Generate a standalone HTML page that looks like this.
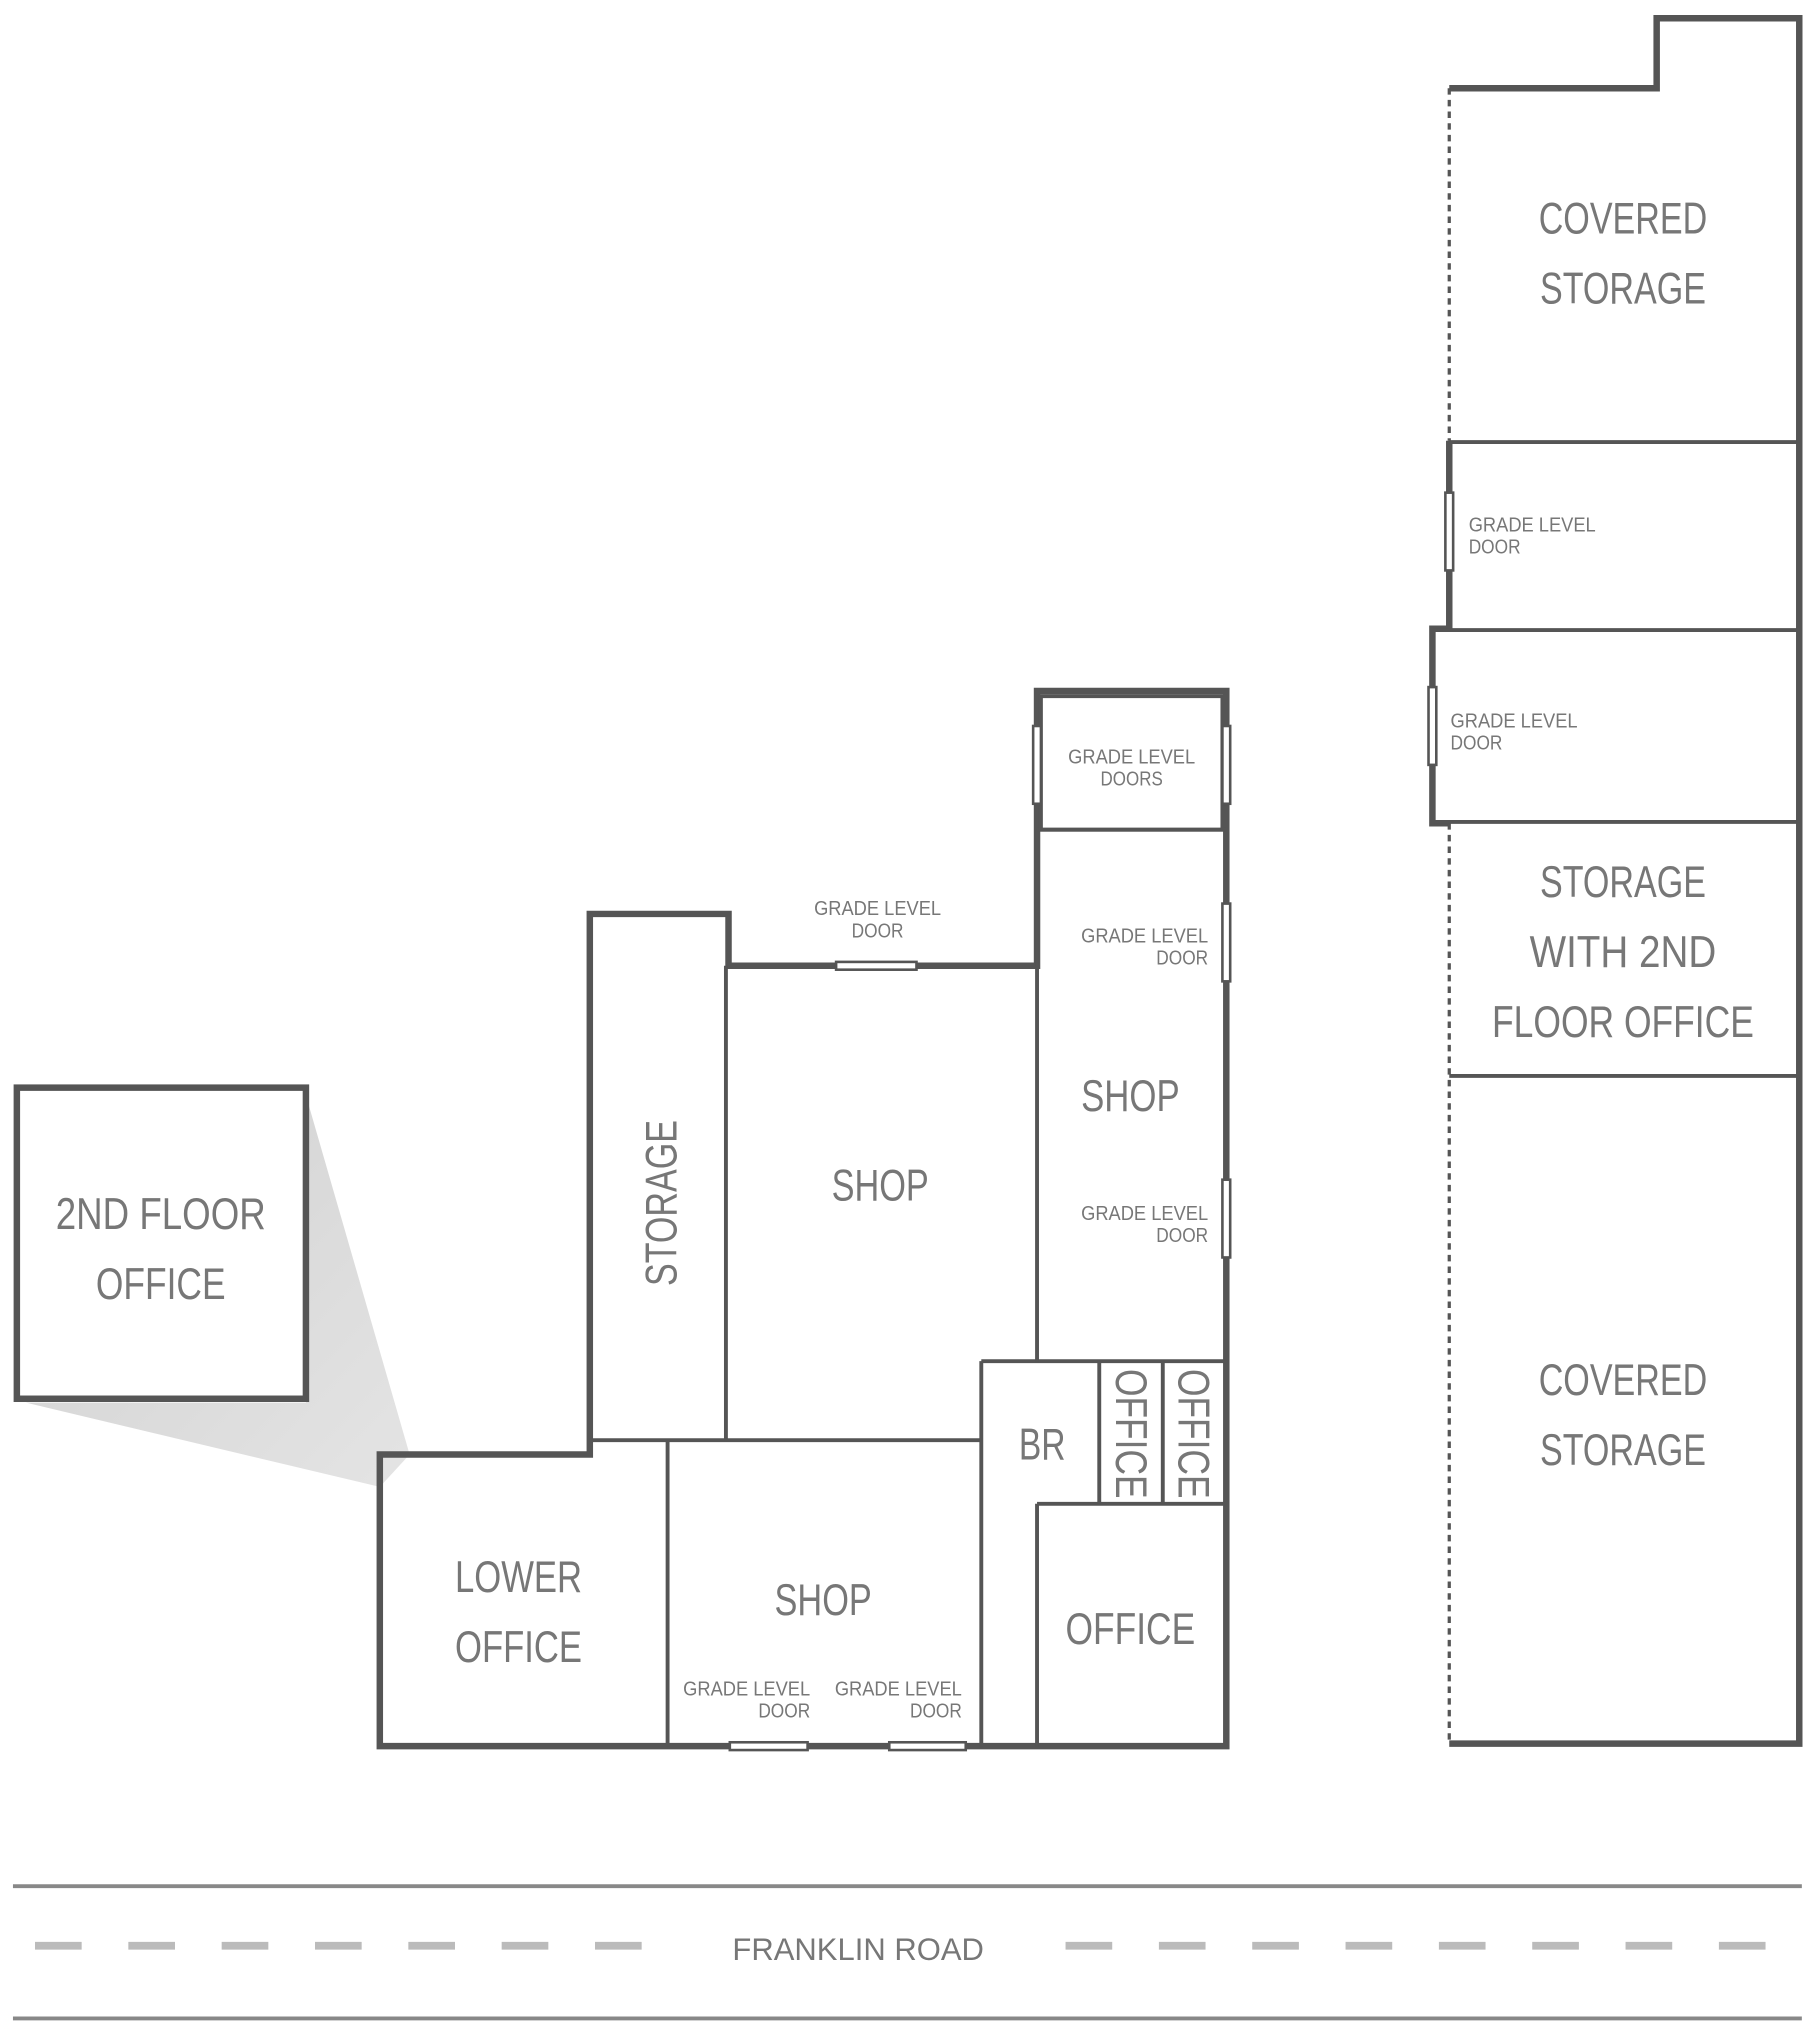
<!DOCTYPE html>
<html><head><meta charset="utf-8"><style>html,body{margin:0;padding:0;background:#fff}svg{display:block}</style></head>
<body>
<svg width="1820" height="2034" viewBox="0 0 1404 1569" xmlns="http://www.w3.org/2000/svg">
<defs>
<linearGradient id="sh" x1="0" y1="0" x2="1" y2="1">
<stop offset="0" stop-color="#d0d0d0"/><stop offset="1" stop-color="#e4e4e4"/>
</linearGradient>
</defs>
<rect width="1404" height="1569" fill="#fff"/>
<!-- shadow -->
<polygon points="236,845 316,1122 293,1147 20,1082 236,1082" fill="url(#sh)"/>
<!-- 2nd floor office box -->
<rect x="13" y="839" width="223" height="240" fill="#fff" stroke="#555" stroke-width="5"/>

<g fill="none" stroke="#555">
<!-- main building outline -->
<path d="M293,1122 H455 V705 H562 V745 H800 V533 H946 V1347 H293 Z" stroke-width="5"/>
<g stroke-width="3">
<line x1="560" y1="745" x2="560" y2="1111"/>
<line x1="455" y1="1111" x2="757" y2="1111"/>
<line x1="515" y1="1111" x2="515" y2="1347"/>
<line x1="757" y1="1050" x2="757" y2="1347"/>
<line x1="757" y1="1050" x2="946" y2="1050"/>
<line x1="800" y1="640" x2="800" y2="1050"/>
<line x1="800" y1="1160" x2="800" y2="1347"/>
<line x1="800" y1="1160" x2="946" y2="1160"/>
<line x1="848" y1="1050" x2="848" y2="1160"/>
<line x1="897" y1="1050" x2="897" y2="1160"/>
<line x1="800" y1="640" x2="946" y2="640"/>
<rect x="803" y="537" width="140" height="103"/>
</g>
<!-- doors -->
<g stroke-width="2" fill="#fff">
<rect x="645" y="742" width="62" height="6"/>
<rect x="563" y="1344" width="60" height="6"/>
<rect x="686" y="1344" width="59" height="6"/>
<rect x="943" y="697" width="6" height="60"/>
<rect x="943" y="910" width="6" height="60"/>
<rect x="797" y="560" width="6" height="60"/>
<rect x="943" y="560" width="6" height="60"/>
</g>

<!-- right building -->
<path d="M1118,68 H1278 V14 H1388 V1345 H1118" stroke-width="5"/>
<path d="M1118,340 V485 H1105 V635 H1118" stroke-width="5"/>
<line x1="1118" y1="68" x2="1118" y2="340" stroke-width="2.5" stroke-dasharray="5,4"/>
<line x1="1118" y1="635" x2="1118" y2="1345" stroke-width="2.5" stroke-dasharray="5,4"/>
<g stroke-width="3">
<line x1="1118" y1="341" x2="1386" y2="341"/>
<line x1="1105" y1="486" x2="1386" y2="486"/>
<line x1="1105" y1="634" x2="1386" y2="634"/>
<line x1="1118" y1="830" x2="1386" y2="830"/>
</g>
<g stroke-width="2" fill="#fff">
<rect x="1115" y="380" width="6" height="60"/>
<rect x="1102" y="530" width="6" height="60"/>
</g>

<!-- road -->
<line x1="10" y1="1455" x2="1390" y2="1455" stroke="#888" stroke-width="3"/>
<line x1="10" y1="1557" x2="1390" y2="1557" stroke="#888" stroke-width="3"/>
<line x1="27" y1="1501" x2="500" y2="1501" stroke="#bbb" stroke-width="6" stroke-dasharray="36,36"/>
<line x1="822" y1="1501" x2="1370" y2="1501" stroke="#bbb" stroke-width="6" stroke-dasharray="36,36"/>
</g>

<g fill="#777" font-family="'Liberation Sans', sans-serif" text-anchor="middle" lengthAdjust="spacingAndGlyphs">
<g font-size="34">
<text x="124" y="948" textLength="162" lengthAdjust="spacingAndGlyphs">2ND FLOOR</text>
<text x="124" y="1002" textLength="100" lengthAdjust="spacingAndGlyphs">OFFICE</text>
<text transform="translate(522,928) rotate(-90)" textLength="128" lengthAdjust="spacingAndGlyphs">STORAGE</text>
<text x="679" y="926" textLength="75" lengthAdjust="spacingAndGlyphs">SHOP</text>
<text x="872" y="857" textLength="76" lengthAdjust="spacingAndGlyphs">SHOP</text>
<text x="804" y="1126" textLength="36" lengthAdjust="spacingAndGlyphs">BR</text>
<text transform="translate(861,1106) rotate(90)" textLength="100" lengthAdjust="spacingAndGlyphs">OFFICE</text>
<text transform="translate(909,1106) rotate(90)" textLength="100" lengthAdjust="spacingAndGlyphs">OFFICE</text>
<text x="872" y="1268" textLength="100" lengthAdjust="spacingAndGlyphs">OFFICE</text>
<text x="400" y="1228" textLength="98" lengthAdjust="spacingAndGlyphs">LOWER</text>
<text x="400" y="1282" textLength="98" lengthAdjust="spacingAndGlyphs">OFFICE</text>
<text x="635" y="1246" textLength="75" lengthAdjust="spacingAndGlyphs">SHOP</text>
<text x="1252" y="180" textLength="130" lengthAdjust="spacingAndGlyphs">COVERED</text>
<text x="1252" y="234" textLength="128" lengthAdjust="spacingAndGlyphs">STORAGE</text>
<text x="1252" y="692" textLength="128" lengthAdjust="spacingAndGlyphs">STORAGE</text>
<text x="1252" y="746" textLength="144" lengthAdjust="spacingAndGlyphs">WITH 2ND</text>
<text x="1252" y="800" textLength="202" lengthAdjust="spacingAndGlyphs">FLOOR OFFICE</text>
<text x="1252" y="1076" textLength="130" lengthAdjust="spacingAndGlyphs">COVERED</text>
<text x="1252" y="1130" textLength="128" lengthAdjust="spacingAndGlyphs">STORAGE</text>
</g>
<g font-size="24">
<text x="662" y="1512" textLength="194" lengthAdjust="spacingAndGlyphs">FRANKLIN ROAD</text>
</g>
<g font-size="16">
<text x="873" y="589" textLength="98" lengthAdjust="spacingAndGlyphs">GRADE LEVEL</text>
<text x="873" y="606" textLength="48" lengthAdjust="spacingAndGlyphs">DOORS</text>
<text x="677" y="706" textLength="98" lengthAdjust="spacingAndGlyphs">GRADE LEVEL</text>
<text x="677" y="723" textLength="40" lengthAdjust="spacingAndGlyphs">DOOR</text>
</g>
<g font-size="16" text-anchor="end">
<text x="932" y="727" textLength="98" lengthAdjust="spacingAndGlyphs">GRADE LEVEL</text>
<text x="932" y="744" textLength="40" lengthAdjust="spacingAndGlyphs">DOOR</text>
<text x="932" y="941" textLength="98" lengthAdjust="spacingAndGlyphs">GRADE LEVEL</text>
<text x="932" y="958" textLength="40" lengthAdjust="spacingAndGlyphs">DOOR</text>
<text x="625" y="1308" textLength="98" lengthAdjust="spacingAndGlyphs">GRADE LEVEL</text>
<text x="625" y="1325" textLength="40" lengthAdjust="spacingAndGlyphs">DOOR</text>
<text x="742" y="1308" textLength="98" lengthAdjust="spacingAndGlyphs">GRADE LEVEL</text>
<text x="742" y="1325" textLength="40" lengthAdjust="spacingAndGlyphs">DOOR</text>
</g>
<g font-size="16" text-anchor="start">
<text x="1133" y="410" textLength="98" lengthAdjust="spacingAndGlyphs">GRADE LEVEL</text>
<text x="1133" y="427" textLength="40" lengthAdjust="spacingAndGlyphs">DOOR</text>
<text x="1119" y="561" textLength="98" lengthAdjust="spacingAndGlyphs">GRADE LEVEL</text>
<text x="1119" y="578" textLength="40" lengthAdjust="spacingAndGlyphs">DOOR</text>
</g>
</g>
</svg>
</body></html>
